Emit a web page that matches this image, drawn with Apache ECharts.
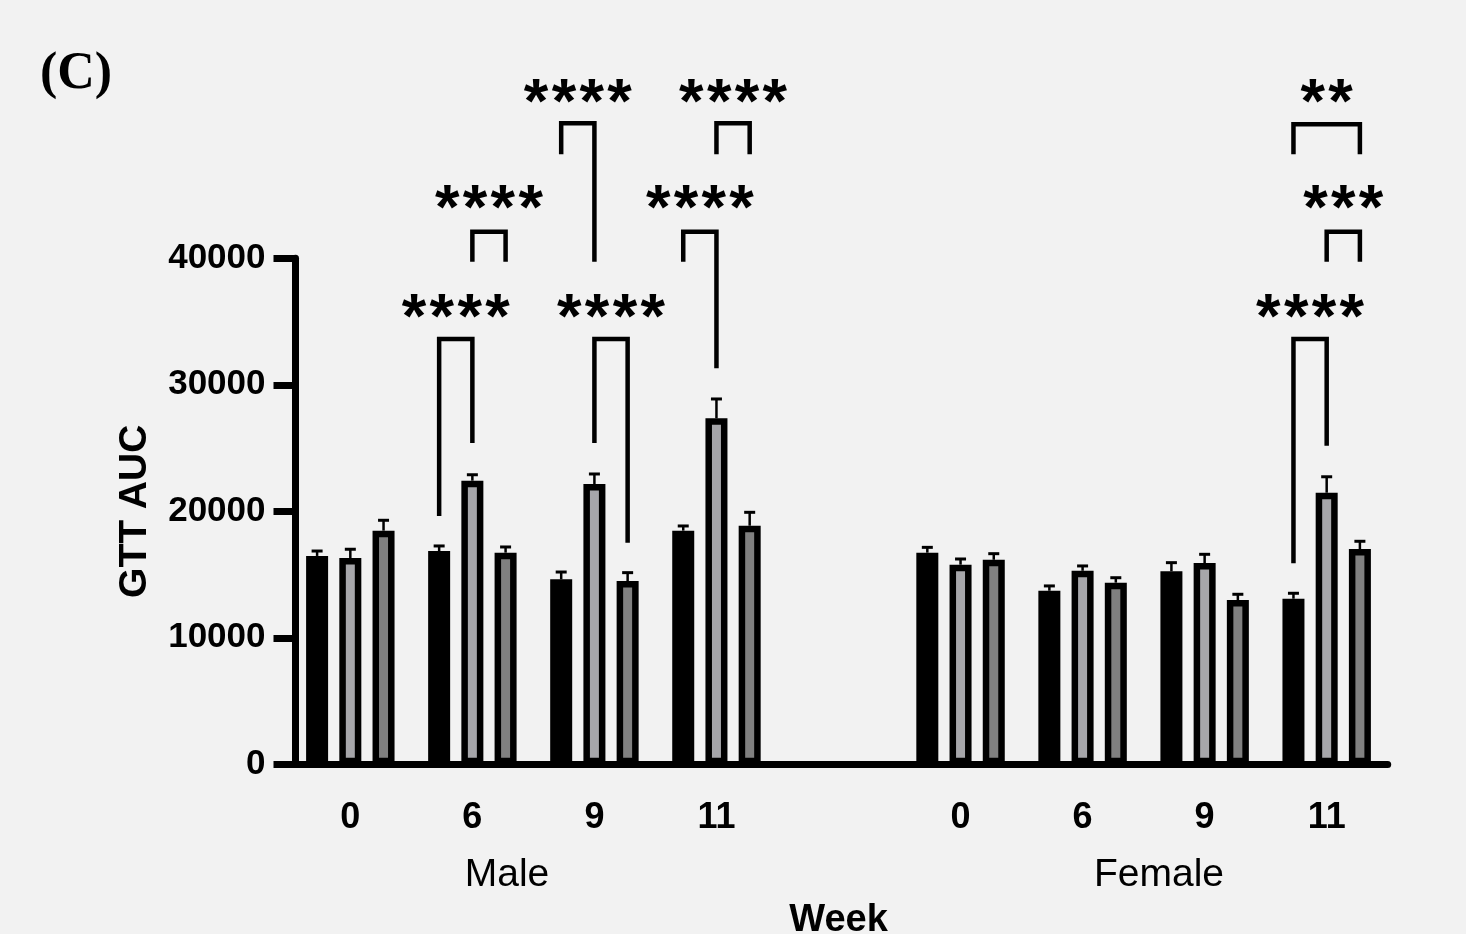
<!DOCTYPE html>
<html>
<head>
<meta charset="utf-8">
<script src="https://cdn.jsdelivr.net/npm/echarts@6/dist/echarts.min.js"></script>
<style>
html,body{margin:0;padding:0;background:#f2f2f2;}
#chart{width:1466px;height:934px;}
</style>
</head>
<body>
<div id="chart"></div>
<script>
// ---- data ----
const categories = ['0', '6', '9', '11', '', '0', '6', '9', '11'];
const groupLabels = ['Male', 'Female'];
const yTicks = [0, 10000, 20000, 30000, 40000];

const blackVals = [16470, 16860, 14620, 18470, null, 16730, 13720, 15260, 13090];
const blackErr  = [390, 400, 580, 370, null, 420, 380, 680, 430];
const lightVals = [16310, 22420, 22160, 27350, null, 15780, 15300, 15910, 21470];
const lightErr  = [690, 470, 790, 1530, null, 450, 380, 690, 1260];
const darkVals  = [18470, 16730, 14490, 18860, null, 16170, 14360, 12990, 17020];
const darkErr   = [820, 450, 660, 1060, null, 480, 390, 450, 610];

// brackets: [category index, bar A (0..2), bar B (0..2), top, left leg end, right leg end, label y]
const brackets = [
  [1, 0, 1, 33620, 19630, 25400, 35160],
  [1, 1, 2, 42100, 39730, 39730, 43780],
  [2, 0, 1, 50670, 48220, 39730, 52160],
  [2, 1, 2, 33620, 25400, 17520, 35160],
  [3, 0, 1, 42100, 39730, 31300, 43780],
  [3, 1, 2, 50670, 48220, 48220, 52160],
  [8, 0, 2, 50600, 48220, 48220, 52160],
  [8, 1, 2, 42100, 39730, 39730, 43780],
  [8, 0, 1, 33620, 15890, 25190, 35160]
];
const bracketStars = ['****', '****', '****', '****', '****', '****', '**', '***', '****'];

// ---- layout constants ----
const BAR_W = 22;
const BAR_GAP = 0.51;
const STEP = BAR_W * (1 + BAR_GAP);
const STAR_SP = 27.8;
const FONT = '"Liberation Sans", Arial, Helvetica, sans-serif';

function errData(vals, errs, k) {
  const out = [];
  vals.forEach((v, i) => { if (v != null) out.push([i, k, v, errs[i]]); });
  return out;
}

function renderErr(params, api) {
  const cat = api.value(0), k = api.value(1), v = api.value(2), e = api.value(3);
  const p0 = api.coord([cat, v]);
  const p1 = api.coord([cat, v + e]);
  const x = p0[0] + (k - 1) * STEP;
  return {
    type: 'group',
    children: [
      { type: 'line', shape: { x1: x, y1: p0[1], x2: x, y2: p1[1] }, style: { stroke: '#000', lineWidth: 2.5 } },
      { type: 'line', shape: { x1: x - 5.5, y1: p1[1], x2: x + 5.5, y2: p1[1] }, style: { stroke: '#000', lineWidth: 3 } }
    ]
  };
}

function renderBracket(params, api) {
  const cat = api.value(0), a = api.value(1), b = api.value(2);
  const c = api.coord([cat, api.value(3)]);
  const xa = c[0] + (a - 1) * STEP, xb = c[0] + (b - 1) * STEP;
  const yTop = c[1];
  const yL = api.coord([cat, api.value(4)])[1];
  const yR = api.coord([cat, api.value(5)])[1];
  const yT = api.coord([cat, api.value(6)])[1];
  const stars = bracketStars[params.dataIndex];
  const n = stars.length;
  const cx = (xa + xb) / 2;
  const children = [
    { type: 'polyline', shape: { points: [[xa, yL], [xa, yTop], [xb, yTop], [xb, yR]] },
      style: { stroke: '#000', lineWidth: 4.5, fill: null, lineJoin: 'miter', lineCap: 'butt' } }
  ];
  for (let i = 0; i < n; i++) {
    children.push({ type: 'text', style: { text: stars[i], x: cx + (i - (n - 1) / 2) * STAR_SP, y: yT,
      align: 'center', verticalAlign: 'middle', fill: '#000', font: 'bold 63px ' + FONT } });
  }
  return { type: 'group', children: children };
}

const chart = echarts.init(document.getElementById('chart'), null, { renderer: 'canvas' });

const barBase = {
  type: 'bar',
  barWidth: BAR_W,
  barGap: Math.round(BAR_GAP * 100) + '%',
  emphasis: { disabled: true },
  z: 2
};

chart.setOption({
  animation: false,
  backgroundColor: '#f2f2f2',
  grid: { left: 289.3, right: 78.3, top: 258.3, bottom: 169.7, containLabel: false, outerBoundsMode: 'none' },
  xAxis: {
    type: 'category',
    data: categories,
    name: 'Week',
    nameLocation: 'middle',
    nameGap: 137,
    nameTextStyle: { fontFamily: FONT, fontWeight: 'bold', fontSize: 38, color: '#000' },
    axisLine: { lineStyle: { color: '#000', width: 7 } },
    axisTick: { alignWithLabel: true, interval: 0, length: 24, lineStyle: { color: '#000', width: 7 } },
    axisLabel: { interval: 0, margin: 36, fontFamily: FONT, fontWeight: 'bold', fontSize: 36, color: '#000' },
    splitLine: { show: false }
  },
  yAxis: {
    type: 'value',
    min: 0, max: 40000, interval: 10000,
    offset: -6.2,
    name: 'GTT AUC',
    nameLocation: 'middle',
    nameRotate: 90,
    nameGap: 141,
    nameTextStyle: { fontFamily: FONT, fontWeight: 'bold', fontSize: 39, color: '#000' },
    axisLine: { show: true, lineStyle: { color: '#000', width: 7 } },
    axisTick: { show: true, length: 22, lineStyle: { color: '#000', width: 7 } },
    axisLabel: { margin: 30, fontFamily: FONT, fontWeight: 'bold', fontSize: 35, color: '#000',
      formatter: v => (yTicks.indexOf(v) >= 0 ? String(v) : '') },
    splitLine: { show: false }
  },
  series: [
    Object.assign({}, barBase, { name: 'Group 1', data: blackVals, itemStyle: { color: '#000', borderColor: '#000', borderWidth: 6.5 } }),
    Object.assign({}, barBase, { name: 'Group 2', data: lightVals, itemStyle: { color: '#a6a6aa', borderColor: '#000', borderWidth: 6.5 } }),
    Object.assign({}, barBase, { name: 'Group 3', data: darkVals, itemStyle: { color: '#808080', borderColor: '#000', borderWidth: 6.5 } }),
    { type: 'custom', name: 'err1', renderItem: renderErr, data: errData(blackVals, blackErr, 0), clip: false, z: 3, silent: true },
    { type: 'custom', name: 'err2', renderItem: renderErr, data: errData(lightVals, lightErr, 1), clip: false, z: 3, silent: true },
    { type: 'custom', name: 'err3', renderItem: renderErr, data: errData(darkVals, darkErr, 2), clip: false, z: 3, silent: true },
    { type: 'custom', name: 'sig', renderItem: renderBracket, data: brackets, clip: false, z: 4, silent: true }
  ],
  graphic: [
    { type: 'text', left: 40, top: 49, style: { text: '(C)', font: 'bold 52px "Liberation Serif", "Times New Roman", serif', fill: '#000' } },
    { type: 'text', x: 507, y: 875, style: { text: groupLabels[0], font: '39px ' + FONT, fill: '#000', align: 'center', verticalAlign: 'middle' } },
    { type: 'text', x: 1159, y: 875, style: { text: groupLabels[1], font: '39px ' + FONT, fill: '#000', align: 'center', verticalAlign: 'middle' } }
  ]
});
</script>
</body>
</html>
